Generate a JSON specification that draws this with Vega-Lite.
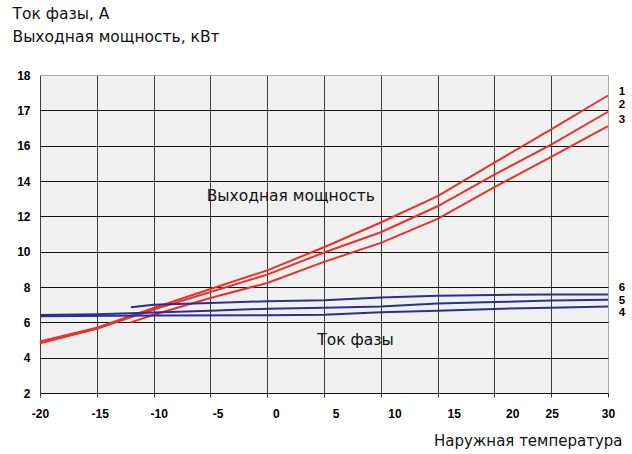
{
  "$schema": "https://vega.github.io/schema/vega-lite/v6.json",
  "width": 568,
  "height": 318,
  "autosize": "none",
  "padding": {"left": 40, "top": 75, "right": 24, "bottom": 61},
  "background": "white",
  "config": {
    "view": {"fill": "#f0f0f0", "stroke": null},
    "font": "Liberation Sans"
  },
  "datasets": {
    "curves": [
      {"series": "1", "t": -20, "v": 4.91}, {"series": "1", "t": -15, "v": 5.70}, {"series": "1", "t": -10, "v": 6.81},
      {"series": "1", "t": -5, "v": 7.89}, {"series": "1", "t": 0, "v": 8.94}, {"series": "1", "t": 5, "v": 10.25},
      {"series": "1", "t": 10, "v": 11.65}, {"series": "1", "t": 15, "v": 13.14}, {"series": "1", "t": 20, "v": 15.04},
      {"series": "1", "t": 25, "v": 16.46}, {"series": "1", "t": 30, "v": 17.42},
      {"series": "2", "t": -20, "v": 4.82}, {"series": "2", "t": -15, "v": 5.64}, {"series": "2", "t": -10, "v": 6.72},
      {"series": "2", "t": -5, "v": 7.72}, {"series": "2", "t": 0, "v": 8.70}, {"series": "2", "t": 5, "v": 9.95},
      {"series": "2", "t": 10, "v": 11.10}, {"series": "2", "t": 15, "v": 12.57}, {"series": "2", "t": 20, "v": 14.36},
      {"series": "2", "t": 25, "v": 16.03}, {"series": "2", "t": 30, "v": 16.96},
      {"series": "3", "t": -12, "v": 6.00}, {"series": "3", "t": -10, "v": 6.43}, {"series": "3", "t": -5, "v": 7.38},
      {"series": "3", "t": 0, "v": 8.23}, {"series": "3", "t": 5, "v": 9.42}, {"series": "3", "t": 10, "v": 10.50},
      {"series": "3", "t": 15, "v": 11.86}, {"series": "3", "t": 20, "v": 13.65}, {"series": "3", "t": 25, "v": 15.37},
      {"series": "3", "t": 30, "v": 16.55},
      {"series": "4", "t": -20, "v": 6.34}, {"series": "4", "t": -10, "v": 6.38}, {"series": "4", "t": 0, "v": 6.40},
      {"series": "4", "t": 5, "v": 6.43}, {"series": "4", "t": 10, "v": 6.57}, {"series": "4", "t": 15, "v": 6.66},
      {"series": "4", "t": 20, "v": 6.76}, {"series": "4", "t": 25, "v": 6.83}, {"series": "4", "t": 30, "v": 6.90},
      {"series": "5", "t": -20, "v": 6.42}, {"series": "5", "t": -15, "v": 6.46}, {"series": "5", "t": -10, "v": 6.55},
      {"series": "5", "t": -5, "v": 6.66}, {"series": "5", "t": 0, "v": 6.77}, {"series": "5", "t": 5, "v": 6.83},
      {"series": "5", "t": 10, "v": 6.90}, {"series": "5", "t": 15, "v": 7.06}, {"series": "5", "t": 20, "v": 7.15},
      {"series": "5", "t": 25, "v": 7.23}, {"series": "5", "t": 30, "v": 7.28},
      {"series": "6", "t": -12, "v": 6.85}, {"series": "6", "t": -10, "v": 7.00}, {"series": "6", "t": -5, "v": 7.10},
      {"series": "6", "t": 0, "v": 7.19}, {"series": "6", "t": 5, "v": 7.25}, {"series": "6", "t": 10, "v": 7.41},
      {"series": "6", "t": 15, "v": 7.51}, {"series": "6", "t": 20, "v": 7.55}, {"series": "6", "t": 25, "v": 7.57},
      {"series": "6", "t": 30, "v": 7.58}
    ],
    "numbers": [
      {"label": "1", "t": 30, "v": 17.52},
      {"label": "2", "t": 30, "v": 17.16},
      {"label": "3", "t": 30, "v": 16.73},
      {"label": "6", "t": 30, "v": 7.96},
      {"label": "5", "t": 30, "v": 7.19},
      {"label": "4", "t": 30, "v": 6.51}
    ],
    "notes": [
      {"label": "Выходная мощность", "t": -5.33, "v": 12.85},
      {"label": "Ток фазы", "t": 4.41, "v": 4.74}
    ]
  },
  "layer": [
    {
      "data": {"name": "curves"},
      "mark": {"type": "line", "strokeWidth": 2, "clip": false},
      "encoding": {
        "x": {
          "field": "t", "type": "quantitative",
          "scale": {"domain": [-20, 30], "nice": false, "zero": false},
          "axis": {
            "orient": "bottom",
            "values": [-20, -15, -10, -5, 0, 5, 10, 15, 20, 25, 30],
            "tickCount": 20,
            "labels": false, "ticks": true, "tickSize": 4, "tickColor": "#333333",
            "domain": false, "grid": true,
            "gridColor": {"condition": {"test": "datum.value === 30", "value": "#aaaaaa"}, "value": "#3a3a3a"},
            "title": "Наружная температура",
            "titleX": 582, "titleY": 52, "titleAlign": "right", "titleBaseline": "alphabetic",
            "titleFont": "DejaVu Sans", "titleFontSize": 15, "titleFontWeight": "normal", "titleColor": "#111111"
          }
        },
        "y": {
          "field": "v", "type": "quantitative",
          "scale": {"domain": [2, 16, 18], "range": [318, 70.667, 0], "nice": false, "zero": false},
          "axis": {
            "values": [2, 4, 6, 8, 10, 12, 14, 16, 17, 18],
            "tickCount": 20,
            "grid": true, "gridOpacity": 1,
            "gridColor": {"condition": {"test": "datum.value === 18", "value": "#aaaaaa"}, "value": "#111111"},
            "ticks": false, "domain": false, "labelOverlap": false, "labelBound": false,
            "labelFontWeight": "bold", "labelFontSize": 12, "labelPadding": 10, "labelColor": "#000000",
            "title": ["Ток фазы, А", "Выходная мощность, кВт"],
            "titleAngle": 0, "titleX": -28, "titleY": -57, "titleAlign": "left", "titleBaseline": "alphabetic",
            "titleFont": "DejaVu Sans", "titleFontSize": 15.5, "titleFontWeight": "normal", "titleLineHeight": 23.5, "titleColor": "#111111"
          }
        },
        "color": {
          "field": "series", "type": "nominal",
          "scale": {"domain": ["1", "2", "3", "4", "5", "6"], "range": ["#e8302c", "#e8302c", "#e8302c", "#2d2f8f", "#2d2f8f", "#2d2f8f"]},
          "legend": null
        }
      }
    },
    {
      "data": {"name": "numbers"},
      "mark": {"type": "text", "fontWeight": "bold", "fontSize": 11.5, "dx": 14, "align": "center", "baseline": "middle", "color": "#000000"},
      "encoding": {
        "x": {
          "field": "t", "type": "quantitative",
          "axis": {
            "orient": "bottom",
            "values": [-20, -14.74, -9.55, -4.37, 0.77, 6.03, 11.21, 16.42, 21.57, 25.04, 30],
            "tickCount": 20,
            "labelExpr": "'' + (round(datum.value / 5) * 5)",
            "labelFontWeight": "bold", "labelFontSize": 12, "labelColor": "#000000",
            "labelPadding": 15, "labelFlush": false, "labelOverlap": false,
            "ticks": false, "domain": false, "grid": false, "title": null
          }
        },
        "y": {"field": "v", "type": "quantitative"},
        "text": {"field": "label"}
      }
    },
    {
      "data": {"name": "notes"},
      "mark": {"type": "text", "font": "DejaVu Sans", "fontSize": 15.5, "align": "left", "baseline": "alphabetic", "color": "#111111"},
      "encoding": {
        "x": {"field": "t", "type": "quantitative", "axis": null},
        "y": {"field": "v", "type": "quantitative"},
        "text": {"field": "label"}
      }
    }
  ],
  "resolve": {"axis": {"x": "independent"}}
}
